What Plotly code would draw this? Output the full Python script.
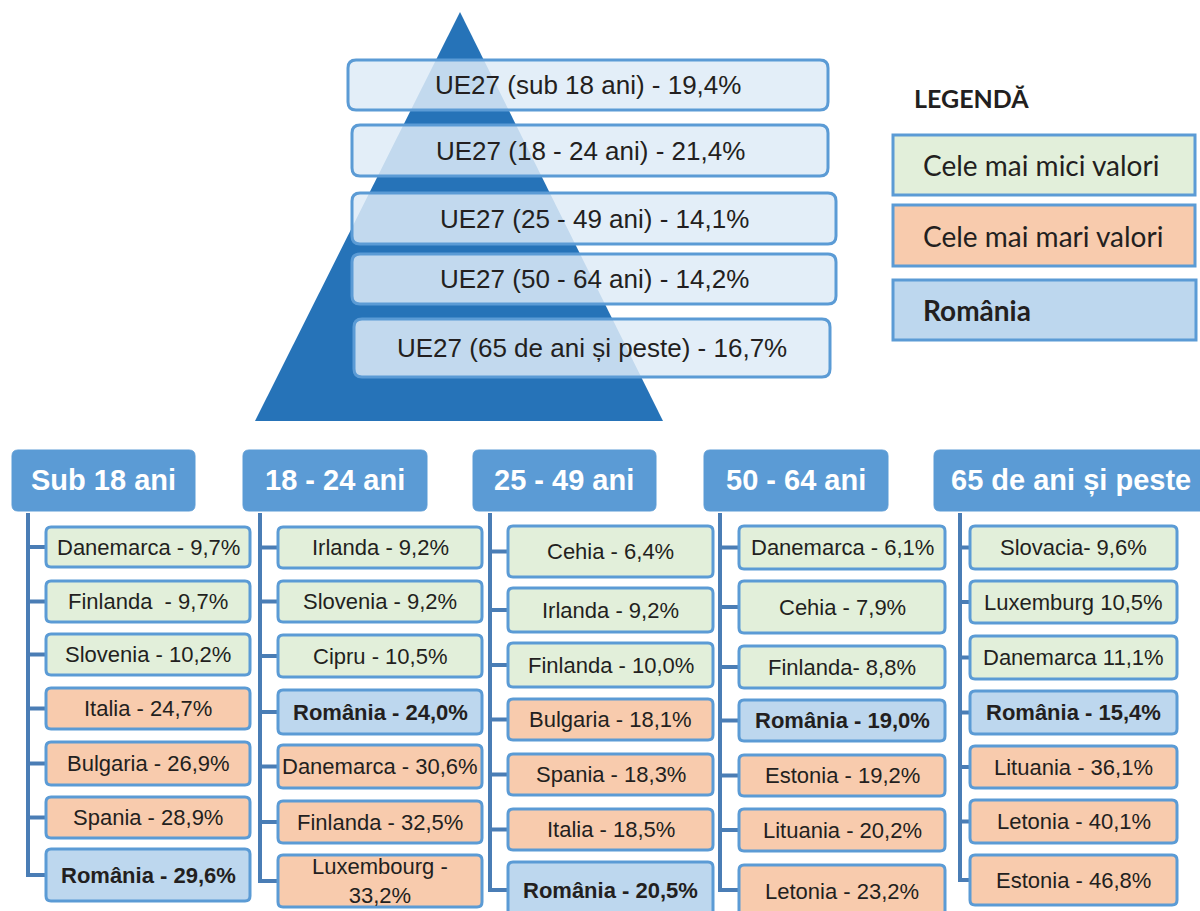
import plotly.graph_objects as go

# ---------------- data ----------------
pyramid_groups = ["sub 18 ani", "18 - 24 ani", "25 - 49 ani", "50 - 64 ani", "65 de ani și peste"]
pyramid_values = [19.4, 21.4, 14.1, 14.2, 16.7]

group_titles = ["Sub 18 ani", "18 - 24 ani", "25 - 49 ani", "50 - 64 ani", "65 de ani și peste"]

g1_countries = ["Danemarca", "Finlanda ", "Slovenia", "Italia", "Bulgaria", "Spania", "România"]
g1_values = [9.7, 9.7, 10.2, 24.7, 26.9, 28.9, 29.6]
g1_kind = ["min", "min", "min", "max", "max", "max", "ro"]
g1_sep = [" - ", " - ", " - ", " - ", " - ", " - ", " - "]

g2_countries = ["Irlanda", "Slovenia", "Cipru", "România", "Danemarca", "Finlanda", "Luxembourg"]
g2_values = [9.2, 9.2, 10.5, 24.0, 30.6, 32.5, 33.2]
g2_kind = ["min", "min", "min", "ro", "max", "max", "max"]
g2_sep = [" - ", " - ", " - ", " - ", " - ", " - ", " -<br>"]

g3_countries = ["Cehia", "Irlanda", "Finlanda", "Bulgaria", "Spania", "Italia", "România"]
g3_values = [6.4, 9.2, 10.0, 18.1, 18.3, 18.5, 20.5]
g3_kind = ["min", "min", "min", "max", "max", "max", "ro"]
g3_sep = [" - ", " - ", " - ", " - ", " - ", " - ", " - "]

g4_countries = ["Danemarca", "Cehia", "Finlanda", "România", "Estonia", "Lituania", "Letonia"]
g4_values = [6.1, 7.9, 8.8, 19.0, 19.2, 20.2, 23.2]
g4_kind = ["min", "min", "min", "ro", "max", "max", "max"]
g4_sep = [" - ", " - ", "- ", " - ", " - ", " - ", " - "]

g5_countries = ["Slovacia", "Luxemburg", "Danemarca", "România", "Lituania", "Letonia", "Estonia"]
g5_values = [9.6, 10.5, 11.1, 15.4, 36.1, 40.1, 46.8]
g5_kind = ["min", "min", "min", "ro", "max", "max", "max"]
g5_sep = ["- ", " ", " ", " - ", " - ", " - ", " - "]

legend_title = "LEGENDĂ"
legend_labels = ["Cele mai mici valori", "Cele mai mari valori", "România"]
legend_kinds = ["min", "max", "ro"]

# ---------------- style / layout ----------------
W, H = 1200, 911
ARIAL = "Liberation Sans, Arial, sans-serif"
CALIBRI = "Lato, Carlito, Calibri, sans-serif"
TXT = "#231f20"
BORDER = "#5b9bd5"
LINE = "#4a7db5"
TRI = "#2673b8"
FILL = {"min": "#e2efda", "max": "#f8cbad", "ro": "#bdd7ee"}


def fmt(v):
    return f"{v:.1f}".replace(".", ",") + "%"


def rrect(x0, y0, x1, y1, r):
    return (f"M{x0+r},{y0} L{x1-r},{y0} Q{x1},{y0} {x1},{y0+r} L{x1},{y1-r} "
            f"Q{x1},{y1} {x1-r},{y1} L{x0+r},{y1} Q{x0},{y1} {x0},{y1-r} "
            f"L{x0},{y0+r} Q{x0},{y0} {x0+r},{y0} Z")


shapes = []
annotations = []


def box(x0, y0, x1, y1, fill, line=BORDER, lw=3, r=6):
    shapes.append(dict(type="path", path=rrect(x0, y0, x1, y1, r), xref="x", yref="y",
                       fillcolor=fill, line=dict(color=line, width=lw), layer="above"))


def text(x, y, s, size, color=TXT, family=ARIAL, bold=False, xanchor="center"):
    if bold:
        s = "<b>" + s + "</b>"
    annotations.append(dict(x=x, y=y, xref="x", yref="y", text=s, showarrow=False,
                            xanchor=xanchor, yanchor="middle",
                            font=dict(size=size, color=color, family=family)))


# pyramid triangle
shapes.append(dict(type="path", path="M255,421 L460,12 L663,421 Z", xref="x", yref="y",
                   fillcolor=TRI, line=dict(width=0), layer="above"))

# pyramid boxes
pyr_boxes = [(348, 60, 828, 110), (352, 125, 828, 176), (352, 193, 836, 244),
             (352, 254, 836, 304), (354, 319, 830, 377)]
for (x0, y0, x1, y1), g, v in zip(pyr_boxes, pyramid_groups, pyramid_values):
    box(x0, y0, x1, y1, "rgba(222,235,247,0.85)", lw=3, r=8)
    text((x0 + x1) / 2, (y0 + y1) / 2, f"UE27 ({g}) - {fmt(v)}", 26)

# legend
text(912, 98, legend_title, 25, family=CALIBRI, bold=True, xanchor="left")
leg_boxes = [(893, 135, 1195, 195), (893, 205, 1195, 266), (893, 280, 1196, 340)]
for (x0, y0, x1, y1), lab, k in zip(leg_boxes, legend_labels, legend_kinds):
    box(x0, y0, x1, y1, FILL[k], lw=3, r=0)
    text(921, (y0 + y1) / 2, lab, 28, family=CALIBRI, bold=(k == "ro"), xanchor="left")

# columns
groups = [
    (g1_countries, g1_values, g1_kind, g1_sep),
    (g2_countries, g2_values, g2_kind, g2_sep),
    (g3_countries, g3_values, g3_kind, g3_sep),
    (g4_countries, g4_values, g4_kind, g4_sep),
    (g5_countries, g5_values, g5_kind, g5_sep),
]
header_x = [(12, 195), (243, 427), (473, 656), (704, 888), (934, 1210)]
header_text_x = [103, 335, 564, 796, 1071]
line_x = [28, 260, 490, 720, 960]
box_x = [(46, 250), (278, 482), (508, 713), (739, 945), (970, 1177)]
rows = [
    [(527, 567), (581, 622), (634, 675), (688, 729), (742, 785), (797, 838), (849, 901)],
    [(527, 568), (581, 622), (635, 677), (690, 734), (745, 788), (801, 843), (855, 907)],
    [(526, 577), (588, 632), (643, 687), (699, 740), (754, 795), (809, 850), (862, 918)],
    [(526, 569), (581, 633), (646, 688), (700, 741), (755, 796), (809, 851), (865, 918)],
    [(526, 569), (581, 623), (636, 679), (691, 734), (746, 788), (800, 843), (855, 905)],
]
line_end = [877, 882, 890, 890, 882]

for i, (countries, values, kinds, seps) in enumerate(groups):
    hx0, hx1 = header_x[i]
    box(hx0, 450, hx1, 511, BORDER, line="#5b9bd5", lw=1, r=6)
    text(header_text_x[i], 480, group_titles[i], 29, color="white", bold=True)
    lx = line_x[i]
    shapes.append(dict(type="line", x0=lx, x1=lx, y0=513, y1=line_end[i], xref="x", yref="y",
                       line=dict(color=LINE, width=4), layer="below"))
    bx0, bx1 = box_x[i]
    for j, (c, v, k, s) in enumerate(zip(countries, values, kinds, seps)):
        y0, y1 = rows[i][j]
        yc = (y0 + y1) / 2
        ty = min(yc, line_end[i]) if j == len(countries) - 1 else yc
        shapes.append(dict(type="line", x0=lx - 2, x1=bx0, y0=ty, y1=ty, xref="x", yref="y",
                           line=dict(color=LINE, width=4), layer="below"))
        box(bx0, y0, bx1, y1, FILL[k], lw=3, r=5)
        text((bx0 + bx1) / 2, yc, f"{c}{s}{fmt(v)}", 22, bold=(k == "ro"))

fig = go.Figure()
fig.update_layout(
    width=W, height=H,
    margin=dict(l=0, r=0, t=0, b=0),
    paper_bgcolor="white", plot_bgcolor="white",
    xaxis=dict(range=[0, W], visible=False, fixedrange=True),
    yaxis=dict(range=[H, 0], visible=False, fixedrange=True),
    shapes=shapes, annotations=annotations, showlegend=False,
)
fig.write_html("out.html", config={"displayModeBar": False},
               post_script="document.body.style.margin='0';document.body.style.overflow='hidden';")
